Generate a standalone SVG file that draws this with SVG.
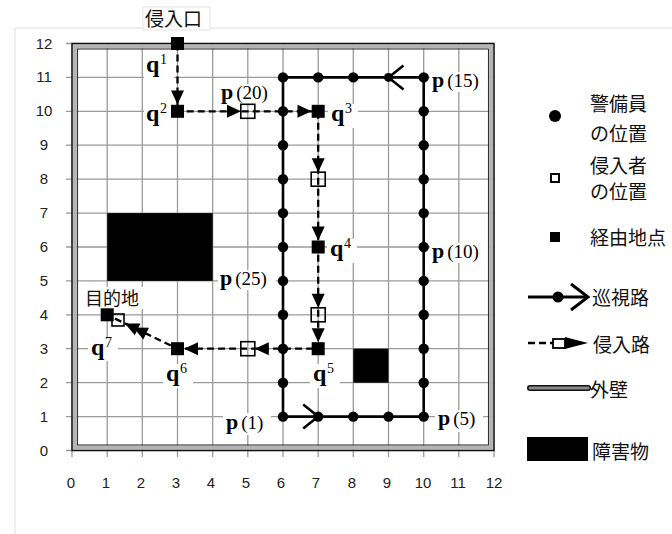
<svg xmlns="http://www.w3.org/2000/svg" width="672" height="534" viewBox="0 0 672 534">
<style>
.grid{stroke:#9a9a9a;stroke-width:1.3}
.patrol{fill:none;stroke:#000;stroke-width:2.6}
.intr{fill:none;stroke:#000;stroke-width:2.3;stroke-dasharray:7 4}
.dot{fill:#000}
.wp{fill:#000}
.open{fill:none;stroke:#000;stroke-width:1.6}
.bg{fill:#fff}
.ql{font-family:"Liberation Serif",serif;font-weight:bold;font-size:24px}
.sup{font-family:"Liberation Serif",serif;font-size:14px}
.pl{font-family:"Liberation Serif",serif;font-weight:bold;font-size:22px}
.pn{font-family:"Liberation Serif",serif;font-size:19px}
.jp{font-family:"Noto Sans CJK JP",sans-serif;font-size:19px;fill:#111}
.ax{font-family:"Liberation Sans",sans-serif;font-size:15px;fill:#222;text-anchor:middle}
</style>
<defs>
<path id="ah" d="M0,0 L-14,-6.5 L-14,6.5 Z" fill="#000"/>
<rect id="wpq" x="-6.5" y="-6.5" width="13" height="13" fill="#000"/>
<rect id="opq" x="-7" y="-7" width="14" height="14" fill="none" stroke="#000" stroke-width="1.6"/>
</defs>
<rect width="672" height="534" fill="#fff"/>
<g id="panel" stroke="#dcdcdc" stroke-width="1">
<line x1="15" y1="28" x2="672" y2="28"/>
<line x1="15" y1="28" x2="15" y2="534"/>
</g>
<g id="grid" class="grid">
<line x1="72" y1="43.5" x2="72" y2="457"/>
<line x1="107.2" y1="43.5" x2="107.2" y2="457"/>
<line x1="142.3" y1="43.5" x2="142.3" y2="457"/>
<line x1="177.5" y1="43.5" x2="177.5" y2="457"/>
<line x1="212.7" y1="43.5" x2="212.7" y2="457"/>
<line x1="247.8" y1="43.5" x2="247.8" y2="457"/>
<line x1="283" y1="43.5" x2="283" y2="457"/>
<line x1="318.2" y1="43.5" x2="318.2" y2="457"/>
<line x1="353.3" y1="43.5" x2="353.3" y2="457"/>
<line x1="388.5" y1="43.5" x2="388.5" y2="457"/>
<line x1="423.7" y1="43.5" x2="423.7" y2="457"/>
<line x1="458.8" y1="43.5" x2="458.8" y2="457"/>
<line x1="494" y1="43.5" x2="494" y2="457"/>
<line x1="66" y1="450.5" x2="494" y2="450.5"/>
<line x1="66" y1="416.6" x2="494" y2="416.6"/>
<line x1="66" y1="382.7" x2="494" y2="382.7"/>
<line x1="66" y1="348.7" x2="494" y2="348.7"/>
<line x1="66" y1="314.8" x2="494" y2="314.8"/>
<line x1="66" y1="280.9" x2="494" y2="280.9"/>
<line x1="66" y1="247" x2="494" y2="247"/>
<line x1="66" y1="213.1" x2="494" y2="213.1"/>
<line x1="66" y1="179.2" x2="494" y2="179.2"/>
<line x1="66" y1="145.2" x2="494" y2="145.2"/>
<line x1="66" y1="111.3" x2="494" y2="111.3"/>
<line x1="66" y1="77.4" x2="494" y2="77.4"/>
<line x1="66" y1="43.5" x2="494" y2="43.5"/>
</g>
<g id="axis-labels" class="ax">
<text x="44" y="456">0</text>
<text x="44" y="422">1</text>
<text x="44" y="388">2</text>
<text x="44" y="354">3</text>
<text x="44" y="320">4</text>
<text x="44" y="286">5</text>
<text x="44" y="252">6</text>
<text x="44" y="218">7</text>
<text x="44" y="184">8</text>
<text x="44" y="150">9</text>
<text x="44" y="116">10</text>
<text x="44" y="82">11</text>
<text x="44" y="49">12</text>
<text x="71" y="488">0</text>
<text x="106" y="488">1</text>
<text x="141" y="488">2</text>
<text x="176" y="488">3</text>
<text x="211" y="488">4</text>
<text x="246" y="488">5</text>
<text x="281" y="488">6</text>
<text x="316" y="488">7</text>
<text x="352" y="488">8</text>
<text x="387" y="488">9</text>
<text x="423" y="488">10</text>
<text x="458" y="488">11</text>
<text x="494" y="488">12</text>
</g>
<g id="label-bg" class="bg">
<rect x="144" y="56" width="30" height="24"/>
<rect x="144" y="104" width="30" height="24"/>
<rect x="328" y="104" width="30" height="24"/>
<rect x="327" y="239" width="30" height="24"/>
<rect x="310" y="364" width="30" height="24"/>
<rect x="163" y="364" width="30" height="24"/>
<rect x="88" y="337" width="30" height="24"/>
<rect x="219" y="84" width="58" height="20"/>
<rect x="430" y="72" width="58" height="20"/>
<rect x="430" y="243" width="58" height="20"/>
<rect x="218" y="270" width="58" height="20"/>
<rect x="223" y="413" width="48" height="22"/>
<rect x="435" y="410" width="48" height="22"/>
<rect x="84" y="287" width="60" height="22"/>
</g>
<g id="obstacles" fill="#000">
<rect x="107.2" y="213.1" width="105.5" height="67.8"/>
<rect x="353.3" y="348.7" width="35.2" height="34"/>
</g>
<g id="wall">
<rect x="74.8" y="46.3" width="416.4" height="401.4" fill="none" stroke="#b4b4b4" stroke-width="4"/>
<rect x="72" y="43.5" width="422" height="407" fill="none" stroke="#111" stroke-width="1.4"/>
<rect x="77.5" y="49" width="411" height="396" fill="none" stroke="#333" stroke-width="1.1"/>
</g>
<g id="connectors">
<path id="patrol-route" class="patrol" d="M283,416.6 H423.7 V77.4 H283 Z"/>
<polyline class="patrol" points="303.2,404.6 318.2,416.6 303.2,428.6"/>
<polyline class="patrol" points="403.5,65.4 388.5,77.4 403.5,89.4"/>
<path id="intrusion-route" class="intr" d="M177.5,43.5 V111.3 H318.2 V348.7 H177.5 L110,316.2"/>
<use href="#ah" transform="translate(177.5,104.5) rotate(90)"/>
<use href="#ah" transform="translate(241,111.3)"/>
<use href="#ah" transform="translate(311.5,111.3)"/>
<use href="#ah" transform="translate(318.2,172.2) rotate(90)"/>
<use href="#ah" transform="translate(318.2,240.5) rotate(90)"/>
<use href="#ah" transform="translate(318.2,307.8) rotate(90)"/>
<use href="#ah" transform="translate(318.2,342.2) rotate(90)"/>
<use href="#ah" transform="translate(254.8,348.7) rotate(180)"/>
<use href="#ah" transform="translate(184,348.7) rotate(180)"/>
<use href="#ah" transform="translate(125,323.4) rotate(205.7)"/>
<use href="#ah" transform="translate(133.5,327.5) rotate(205.7)"/>
</g>
<g id="guards" class="dot">
<circle cx="283" cy="416.6" r="5.2"/>
<circle cx="318.2" cy="416.6" r="5.2"/>
<circle cx="353.3" cy="416.6" r="5.2"/>
<circle cx="388.5" cy="416.6" r="5.2"/>
<circle cx="423.7" cy="416.6" r="5.2"/>
<circle cx="423.7" cy="382.7" r="5.2"/>
<circle cx="423.7" cy="348.7" r="5.2"/>
<circle cx="423.7" cy="314.8" r="5.2"/>
<circle cx="423.7" cy="280.9" r="5.2"/>
<circle cx="423.7" cy="247" r="5.2"/>
<circle cx="423.7" cy="213.1" r="5.2"/>
<circle cx="423.7" cy="179.2" r="5.2"/>
<circle cx="423.7" cy="145.2" r="5.2"/>
<circle cx="423.7" cy="111.3" r="5.2"/>
<circle cx="423.7" cy="77.4" r="5.2"/>
<circle cx="388.5" cy="77.4" r="4.5"/>
<circle cx="353.3" cy="77.4" r="5.2"/>
<circle cx="318.2" cy="77.4" r="5.2"/>
<circle cx="283" cy="77.4" r="5.2"/>
<circle cx="283" cy="111.3" r="5.2"/>
<circle cx="283" cy="145.2" r="5.2"/>
<circle cx="283" cy="179.2" r="5.2"/>
<circle cx="283" cy="213.1" r="5.2"/>
<circle cx="283" cy="247" r="5.2"/>
<circle cx="283" cy="280.9" r="5.2"/>
<circle cx="283" cy="314.8" r="5.2"/>
<circle cx="283" cy="348.7" r="5.2"/>
<circle cx="283" cy="382.7" r="5.2"/>
</g>
<g id="intruder-positions">
<use href="#opq" x="247.8" y="111.3"/>
<use href="#opq" x="318.2" y="179.2"/>
<use href="#opq" x="318.2" y="314.8"/>
<use href="#opq" x="247.8" y="348.7"/>
<rect x="112" y="314" width="12" height="12" class="open"/>
</g>
<g id="waypoints">
<g id="q1"><use href="#wpq" x="177.5" y="43.5"/><text class="ql" x="146" y="72">q</text><text class="sup" x="160" y="64">1</text></g>
<g id="q2"><use href="#wpq" x="177.5" y="111.3"/><text class="ql" x="146" y="121">q</text><text class="sup" x="160" y="113">2</text></g>
<g id="q3"><use href="#wpq" x="318.2" y="111.3"/><text class="ql" x="331" y="121">q</text><text class="sup" x="345" y="113">3</text></g>
<g id="q4"><use href="#wpq" x="318.2" y="247"/><text class="ql" x="330" y="256">q</text><text class="sup" x="344" y="248">4</text></g>
<g id="q5"><use href="#wpq" x="318.2" y="348.7"/><text class="ql" x="313" y="381">q</text><text class="sup" x="327" y="373">5</text></g>
<g id="q6"><use href="#wpq" x="177.5" y="348.7"/><text class="ql" x="166" y="381">q</text><text class="sup" x="180" y="373">6</text></g>
<g id="q7"><use href="#wpq" x="107.2" y="314.8"/><text class="ql" x="91" y="355">q</text><text class="sup" x="105" y="347">7</text></g>
</g>
<g id="p-labels">
<text x="221" y="99"><tspan class="pl">p</tspan><tspan class="pn" dx="3">(20)</tspan></text>
<text x="432" y="87"><tspan class="pl">p</tspan><tspan class="pn" dx="3">(15)</tspan></text>
<text x="432" y="258"><tspan class="pl">p</tspan><tspan class="pn" dx="3">(10)</tspan></text>
<text x="220" y="285"><tspan class="pl">p</tspan><tspan class="pn" dx="3">(25)</tspan></text>
<text x="226" y="429"><tspan class="pl">p</tspan><tspan class="pn" dx="3">(1)</tspan></text>
<text x="438" y="425"><tspan class="pl">p</tspan><tspan class="pn" dx="3">(5)</tspan></text>
</g>
<g id="entry">
<rect x="143" y="7" width="67" height="23" fill="#fff" stroke="#e4e4e4" stroke-width="1"/>
<text class="jp" x="145" y="26" font-size="20">侵入口</text>
</g>
<g id="goal"><text class="jp" x="85" y="305" style="font-size:18px">目的地</text></g>
<g id="legend">
<circle cx="555" cy="116" r="6" fill="#000"/>
<text class="jp" x="590" y="111">警備員</text>
<text class="jp" x="590" y="141">の位置</text>
<rect x="551" y="174" width="8" height="8" fill="none" stroke="#000" stroke-width="2"/>
<text class="jp" x="590" y="173">侵入者</text>
<text class="jp" x="590" y="199">の位置</text>
<rect x="550" y="232" width="10" height="10" fill="#000"/>
<text class="jp" x="590" y="245">経由地点</text>
<line x1="528" y1="297" x2="586" y2="297" stroke="#000" stroke-width="3"/>
<circle cx="558" cy="297" r="5.5" fill="#000"/>
<polyline points="571,284 588,297 571,310" fill="none" stroke="#000" stroke-width="3"/>
<text class="jp" x="592" y="305">巡視路</text>
<line x1="528" y1="343" x2="553" y2="343" stroke="#000" stroke-width="2.3" stroke-dasharray="7 4"/>
<rect x="553" y="339" width="12" height="9" fill="none" stroke="#000" stroke-width="1.8"/>
<path d="M565,337 Q576,340 588,343 Q576,346 565,349 Z" fill="#000"/>
<text class="jp" x="593" y="352">侵入路</text>
<line x1="530" y1="388" x2="588" y2="388" stroke="#111" stroke-width="6" stroke-linecap="round"/>
<line x1="530" y1="388" x2="588" y2="388" stroke="#8a8a8a" stroke-width="3" stroke-linecap="round"/>
<text class="jp" x="590" y="397">外壁</text>
<rect x="527" y="437" width="61" height="24" fill="#000"/>
<text class="jp" x="592" y="459">障害物</text>
</g>
</svg>
